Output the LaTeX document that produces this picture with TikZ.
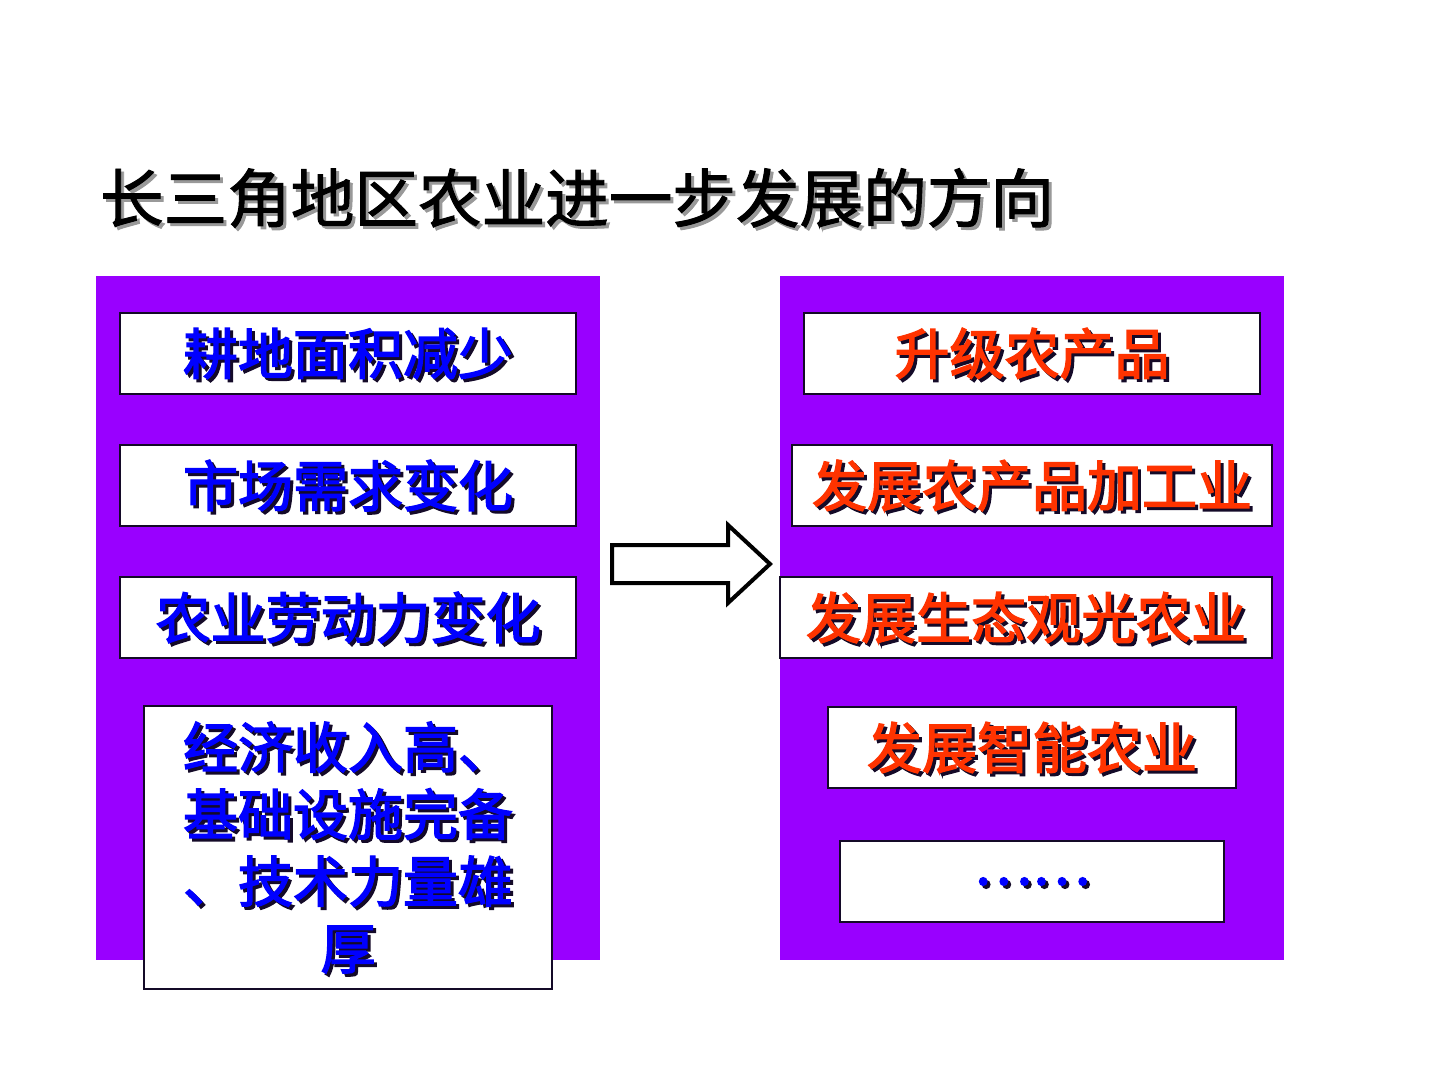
\documentclass[tikz,border=0pt]{standalone}
\usepackage{fontspec}
\newfontfamily\cjk{Noto Sans CJK SC}
\newfontfamily\cjkfb{Noto Sans CJK SC}[FakeBold=2.5]
\newfontfamily\cjktt{Noto Sans CJK SC}[FakeBold=1.5]
\definecolor{purp}{RGB}{153,0,255}
\definecolor{tblue}{RGB}{0,0,255}
\definecolor{tred}{RGB}{255,51,0}
\definecolor{shd}{RGB}{20,10,40}
\tikzset{
  panel/.style={fill=purp, draw=none},
  wbox/.style={draw=shd, line width=0.8pt, fill=white, inner sep=0pt},
  btxt/.style={font=\cjkfb\fontsize{27.5}{33.5}\selectfont, inner sep=0pt, align=center},
  ttl/.style={font=\cjktt\fontsize{31.8}{38}\selectfont, inner sep=0pt},
}
\newcommand\tbox[7]{%
  \node[wbox, minimum width=#4, minimum height=#5] (#1) at (#2,#3) {};
  \node[btxt, text=shd] (#1-s) at ([shift={(3,3)}]#1.center) {#6};
  \node[btxt, text=#7] (#1-t) at (#1.center) {#6};
}
\begin{document}
\begin{tikzpicture}[x=0.5pt,y=-0.5pt]
\useasboundingbox (0,0) rectangle (1440,1080);
\fill[white] (0,0) rectangle (1440,1080);
% title
\node[ttl, text=black!40] (title-s) at (580,201) {长三角地区农业进一步发展的方向};
\node[ttl, text=black] (title) at (577,198) {长三角地区农业进一步发展的方向};
% panels
\path[panel] (96,276) rectangle (600,960);
\path[panel] (780,276) rectangle (1284,960);
% left boxes
\tbox{l1}{348}{353.5}{228pt}{40.5pt}{耕地面积减少}{tblue}
\tbox{l2}{348}{485.5}{228pt}{40.5pt}{市场需求变化}{tblue}
\tbox{l3}{348}{617.5}{228pt}{40.5pt}{农业劳动力变化}{tblue}
\tbox{l4}{348}{847.5}{204pt}{141.5pt}{经济收入高、\\基础设施完备\\、技术力量雄\\厚}{tblue}
% right boxes
\tbox{r1}{1032}{353.5}{228pt}{40.5pt}{升级农产品}{tred}
\tbox{r2}{1032}{485.5}{240pt}{40.5pt}{发展农产品加工业}{tred}
\tbox{r3}{1026}{617.5}{246pt}{40.5pt}{发展生态观光农业}{tred}
\tbox{r4}{1032}{747.5}{204pt}{40.5pt}{发展智能农业}{tred}
\tbox{r5}{1032}{881.5}{192pt}{40.5pt}{……}{tblue}
% block arrow
\draw[line width=2pt, fill=white, line join=miter]
  (612,545) -- (728,545) -- (728,525) -- (770,564) -- (728,603) -- (728,583) -- (612,583) -- cycle;
\end{tikzpicture}
\end{document}
